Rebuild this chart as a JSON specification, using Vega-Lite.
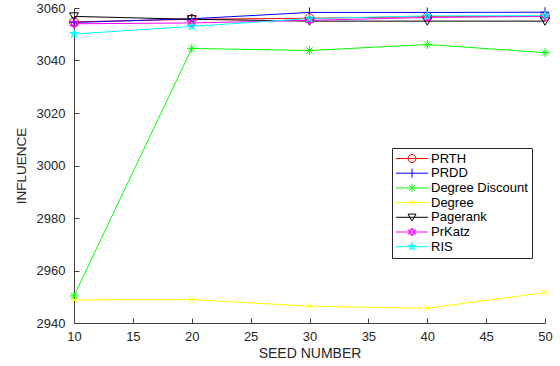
{
  "$schema": "https://vega.github.io/schema/vega-lite/v6.json",
  "width": 471,
  "height": 315,
  "autosize": {"type": "none"},
  "padding": {"left": 74, "top": 8, "right": 15, "bottom": 43},
  "background": "white",
  "config": {
    "view": {"stroke": null},
    "font": "Liberation Sans"
  },
  "data": {
    "values": [
      {"seed": 10, "series": "PRTH", "influence": 3054.7},
      {"seed": 20, "series": "PRTH", "influence": 3055.7},
      {"seed": 30, "series": "PRTH", "influence": 3056.1},
      {"seed": 40, "series": "PRTH", "influence": 3056.7},
      {"seed": 50, "series": "PRTH", "influence": 3056.8},
      {"seed": 10, "series": "PRDD", "influence": 3054.5},
      {"seed": 20, "series": "PRDD", "influence": 3055.9},
      {"seed": 30, "series": "PRDD", "influence": 3058.3},
      {"seed": 40, "series": "PRDD", "influence": 3058.3},
      {"seed": 50, "series": "PRDD", "influence": 3058.4},
      {"seed": 10, "series": "Degree Discount", "influence": 2950.3},
      {"seed": 20, "series": "Degree Discount", "influence": 3044.6},
      {"seed": 30, "series": "Degree Discount", "influence": 3043.8},
      {"seed": 40, "series": "Degree Discount", "influence": 3046.1},
      {"seed": 50, "series": "Degree Discount", "influence": 3043.0},
      {"seed": 10, "series": "Degree", "influence": 2948.8},
      {"seed": 20, "series": "Degree", "influence": 2948.9},
      {"seed": 30, "series": "Degree", "influence": 2946.4},
      {"seed": 40, "series": "Degree", "influence": 2945.6},
      {"seed": 50, "series": "Degree", "influence": 2951.6},
      {"seed": 10, "series": "Pagerank", "influence": 3056.8},
      {"seed": 20, "series": "Pagerank", "influence": 3055.7},
      {"seed": 30, "series": "Pagerank", "influence": 3055.0},
      {"seed": 40, "series": "Pagerank", "influence": 3055.0},
      {"seed": 50, "series": "Pagerank", "influence": 3055.0},
      {"seed": 10, "series": "PrKatz", "influence": 3054.0},
      {"seed": 20, "series": "PrKatz", "influence": 3054.3},
      {"seed": 30, "series": "PrKatz", "influence": 3055.3},
      {"seed": 40, "series": "PrKatz", "influence": 3056.4},
      {"seed": 50, "series": "PrKatz", "influence": 3056.8},
      {"seed": 10, "series": "RIS", "influence": 3050.1},
      {"seed": 20, "series": "RIS", "influence": 3053.0},
      {"seed": 30, "series": "RIS", "influence": 3056.0},
      {"seed": 40, "series": "RIS", "influence": 3057.0},
      {"seed": 50, "series": "RIS", "influence": 3057.1}
    ]
  },
  "encoding": {
    "x": {
      "field": "seed", "type": "quantitative",
      "scale": {"domain": [10, 50], "nice": false, "zero": false},
      "axis": {
        "title": "SEED NUMBER", "values": [10, 15, 20, 25, 30, 35, 40, 45, 50], "format": "d",
        "grid": false, "domainColor": "#404040", "tickColor": "#404040", "labelFlush": false,
        "tickSize": -5, "labelPadding": 12, "labelFontSize": 13, "labelColor": "#262626",
        "titleFontSize": 14, "titleFontWeight": "normal", "titleColor": "#262626", "titlePadding": 3
      }
    },
    "y": {
      "field": "influence", "type": "quantitative",
      "scale": {"domain": [2940, 3060], "nice": false, "zero": false},
      "axis": {
        "title": "INFLUENCE", "values": [2940, 2960, 2980, 3000, 3020, 3040, 3060], "format": "d",
        "grid": false, "domainColor": "#404040", "tickColor": "#404040", "labelFlush": false,
        "tickSize": -5, "labelPadding": 14, "labelFontSize": 13, "labelColor": "#262626",
        "titleFontSize": 13.5, "titleFontWeight": "normal", "titleColor": "#262626", "titlePadding": 8
      }
    }
  },
  "layer": [
    {
      "mark": {"type": "line", "strokeWidth": 1},
      "encoding": {
        "color": {
          "field": "series", "type": "nominal",
          "scale": {
            "domain": ["PRTH", "PRDD", "Degree Discount", "Degree", "Pagerank", "PrKatz", "RIS"],
            "range": ["#ff0000", "#0000ff", "#00ff00", "#ffff00", "#000000", "#ff00ff", "#00ffff"]
          },
          "legend": {
            "title": null, "orient": "none", "legendX": 318, "legendY": 140,
            "symbolSize": 144, "symbolOffset": 9.5, "symbolStrokeWidth": 1, "labelOffset": 12.5,
            "labelFontSize": 13, "labelColor": "#000000", "rowPadding": 0.7,
            "padding": 4, "strokeColor": "#262626", "fillColor": "white",
            "encode": {
              "symbols": {
                "update": {
                  "shape": {"signal": "datum.value === 'PRTH' ? 'M-2.667,0H2.667M-0.667,0A0.667,0.667,0,1,1,0.667,0A0.667,0.667,0,1,1,-0.667,0Z' : datum.value === 'PRDD' ? 'M-2.667,0H2.667M0,-0.75V0.75' : datum.value === 'Degree Discount' ? 'M-2.667,0H2.667M0,-0.667V0.667M-0.47,-0.47L0.47,0.47M-0.47,0.47L0.47,-0.47' : datum.value === 'Degree' ? 'M-2.667,0H2.667M-0.47,-0.47L0.47,0.47M-0.47,0.47L0.47,-0.47' : datum.value === 'Pagerank' ? 'M-2.667,0H2.667M-0.667,-0.53L0.667,-0.53L0,0.6Z' : datum.value === 'PrKatz' ? 'M-2.667,0H2.667M0,-0.667L0.577,0.333L-0.577,0.333ZM0,0.667L0.577,-0.333L-0.577,-0.333Z' : 'M-2.667,0H2.667M0,-0.667L0.392,0.539L-0.634,-0.206L0.634,-0.206L-0.392,0.539Z'"},
                  "fill": {"value": "transparent"},
                  "size": {"value": 144},
                  "strokeWidth": {"value": 1},
                  "opacity": {"value": 1}
                }
              }
            }
          }
        }
      }
    },
    {
      "mark": {"type": "point", "filled": false, "strokeWidth": 1, "size": 81, "opacity": 1},
      "encoding": {
        "color": {"field": "series", "type": "nominal", "legend": null},
        "shape": {
          "field": "series", "type": "nominal",
          "scale": {
            "domain": ["PRTH", "PRDD", "Degree Discount", "Degree", "Pagerank", "PrKatz", "RIS"],
            "range": [
              "M-1,0A1,1,0,1,1,1,0A1,1,0,1,1,-1,0Z",
              "M-1,0H1M0,-1.1V1.1",
              "M-1,0H1M0,-1V1M-0.7,-0.7L0.7,0.7M-0.7,0.7L0.7,-0.7",
              "M-0.7,-0.7L0.7,0.7M-0.7,0.7L0.7,-0.7",
              "M-1,-0.8L1,-0.8L0,0.9Z",
              "M0,-1L0.866,0.5L-0.866,0.5ZM0,1L0.866,-0.5L-0.866,-0.5Z",
              "M0,-1L0.588,0.809L-0.951,-0.309L0.951,-0.309L-0.588,0.809Z"
            ]
          },
          "legend": null
        }
      }
    }
  ],
  "resolve": {"legend": {"color": "independent", "shape": "independent"}}
}
